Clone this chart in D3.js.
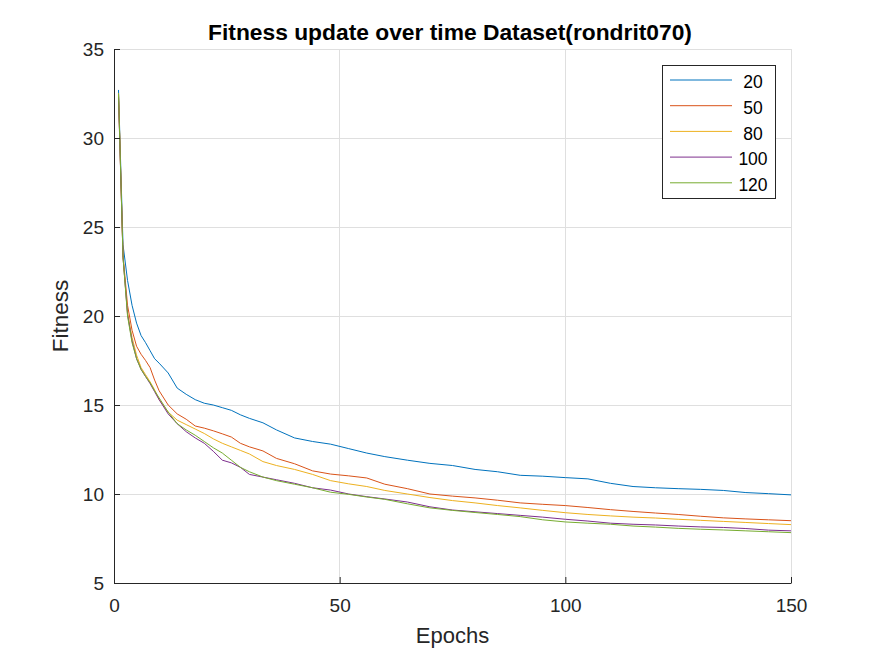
<!DOCTYPE html>
<html><head><meta charset="utf-8">
<script src="https://cdn.jsdelivr.net/npm/d3@7"></script>
<style>body{margin:0;background:#fff}svg{display:block}</style>
</head><body>
<svg id="c" width="875" height="656"></svg>
<script>
const epochs = [1,2,3,4,5,6,7,8,9,10,12,14,16,18,20,22,24,26,28,30,33,36,40,44,48,52,56,60,65,70,75,80,85,90,95,100,105,110,115,120,125,130,135,140,145,150];
const s20  = [32.7,24.0,22.0,20.6,19.6,18.9,18.5,18.05,17.6,17.35,16.8,15.95,15.6,15.3,15.1,15.0,14.85,14.7,14.45,14.25,14.0,13.6,13.15,12.95,12.8,12.55,12.3,12.1,11.9,11.72,11.6,11.38,11.25,11.05,11.0,10.92,10.85,10.6,10.42,10.35,10.3,10.26,10.2,10.08,10.02,9.95];
const s50  = [32.5,23.4,20.6,19.2,18.3,17.85,17.5,17.1,16.4,15.8,15.0,14.5,14.2,13.82,13.7,13.55,13.38,13.2,12.85,12.65,12.42,12.0,11.7,11.3,11.12,11.02,10.9,10.55,10.3,10.0,9.88,9.78,9.65,9.5,9.42,9.35,9.24,9.12,9.02,8.93,8.85,8.75,8.66,8.6,8.55,8.5];
const s80  = [32.5,23.3,20.2,18.8,17.8,17.1,16.7,16.3,15.85,15.3,14.6,14.15,13.9,13.65,13.4,13.1,12.85,12.65,12.45,12.25,11.82,11.6,11.38,11.1,10.75,10.57,10.42,10.2,10.0,9.8,9.63,9.5,9.35,9.22,9.08,8.95,8.85,8.77,8.7,8.65,8.58,8.52,8.46,8.4,8.34,8.28];
const s100 = [32.3,23.3,20.1,18.6,17.6,17.0,16.6,16.2,15.75,15.3,14.5,13.95,13.5,13.15,12.85,12.4,11.9,11.75,11.5,11.1,10.95,10.8,10.6,10.35,10.22,10.0,9.85,9.72,9.55,9.28,9.1,9.0,8.9,8.8,8.7,8.58,8.48,8.36,8.3,8.26,8.2,8.15,8.12,8.06,7.97,7.93];
const s120 = [32.5,23.3,20.0,18.5,17.6,17.0,16.6,16.25,15.8,15.4,14.6,13.95,13.6,13.3,12.95,12.6,12.3,11.9,11.5,11.25,10.95,10.75,10.55,10.35,10.1,9.98,9.83,9.7,9.45,9.22,9.08,8.96,8.85,8.73,8.55,8.43,8.36,8.3,8.2,8.14,8.07,8.02,7.98,7.93,7.88,7.83];
const seriesNames = ["20","50","80","100","120"];
const seriesValues = [s20,s50,s80,s100,s120];
const colors = ["#0072BD","#D95319","#EDB120","#7E2F8E","#77AC30"];
const xTicks = [0,50,100,150];
const yTicks = [5,10,15,20,25,30,35];

const svg = d3.select("#c");
const L=114,R=791,T=49,B=583;
const x = d3.scaleLinear().domain([0,150]).range([L,R]);
const y = d3.scaleLinear().domain([5,35]).range([B,T]);
const font = "'Liberation Sans', Arial, Helvetica, sans-serif";

// grid
const g = svg.append("g");
g.selectAll(".gx").data(xTicks).enter().append("line")
  .attr("x1",d=>x(d)).attr("x2",d=>x(d)).attr("y1",T).attr("y2",B)
  .attr("stroke","#dfdfdf").attr("stroke-width",1).attr("shape-rendering","crispEdges");
g.selectAll(".gy").data(yTicks).enter().append("line")
  .attr("x1",L).attr("x2",R).attr("y1",d=>y(d)).attr("y2",d=>y(d))
  .attr("stroke","#dfdfdf").attr("stroke-width",1).attr("shape-rendering","crispEdges");

// lines
const line = d3.line().x((d,i)=>x(epochs[i])).y(d=>y(d));
seriesValues.forEach((vals,k)=>{
  svg.append("path").datum(vals).attr("d",line).attr("fill","none")
    .attr("stroke",colors[k]).attr("stroke-width",1);
});

// axes
const xAxis = d3.axisBottom(x).tickValues(xTicks).tickSizeInner(-6).tickSizeOuter(0).tickPadding(16);
const yAxis = d3.axisLeft(y).tickValues(yTicks).tickSizeInner(-6).tickSizeOuter(0).tickPadding(10);
const gx = svg.append("g").attr("transform",`translate(0,${B})`).call(xAxis);
const gy = svg.append("g").attr("transform",`translate(${L},0)`).call(yAxis);
[gx,gy].forEach(a=>{
  a.select(".domain").attr("stroke","#262626").attr("stroke-width",1);
  a.selectAll(".tick line").attr("stroke","#262626");
  a.selectAll("text").attr("fill","#262626").style("font-family",font).style("font-size","19px");
});

// title & labels
svg.append("text").attr("x",450).attr("y",40).attr("text-anchor","middle")
  .style("font-family",font).style("font-size","22.8px").style("font-weight","bold").attr("fill","#000")
  .text("Fitness update over time Dataset(rondrit070)");
svg.append("text").attr("x",452.5).attr("y",643).attr("text-anchor","middle")
  .style("font-family",font).style("font-size","22px").attr("fill","#262626").text("Epochs");
svg.append("text").attr("transform","translate(68,316) rotate(-90)").attr("text-anchor","middle")
  .style("font-family",font).style("font-size","22.5px").attr("fill","#262626").text("Fitness");

// legend
const lg = svg.append("g");
lg.append("rect").attr("x",662.5).attr("y",65.5).attr("width",113).attr("height",133)
  .attr("fill","#fff").attr("stroke","#262626").attr("stroke-width",1);
seriesNames.forEach((n,k)=>{
  const yy = 80 + k*25.7;
  lg.append("line").attr("x1",670).attr("x2",732).attr("y1",yy).attr("y2",yy)
    .attr("stroke",colors[k]).attr("stroke-width",1);
  lg.append("text").attr("x",753).attr("y",yy+8.3).attr("text-anchor","middle")
    .style("font-family",font).style("font-size","17.5px").attr("fill","#000").text(n);
});
</script>
</body></html>
